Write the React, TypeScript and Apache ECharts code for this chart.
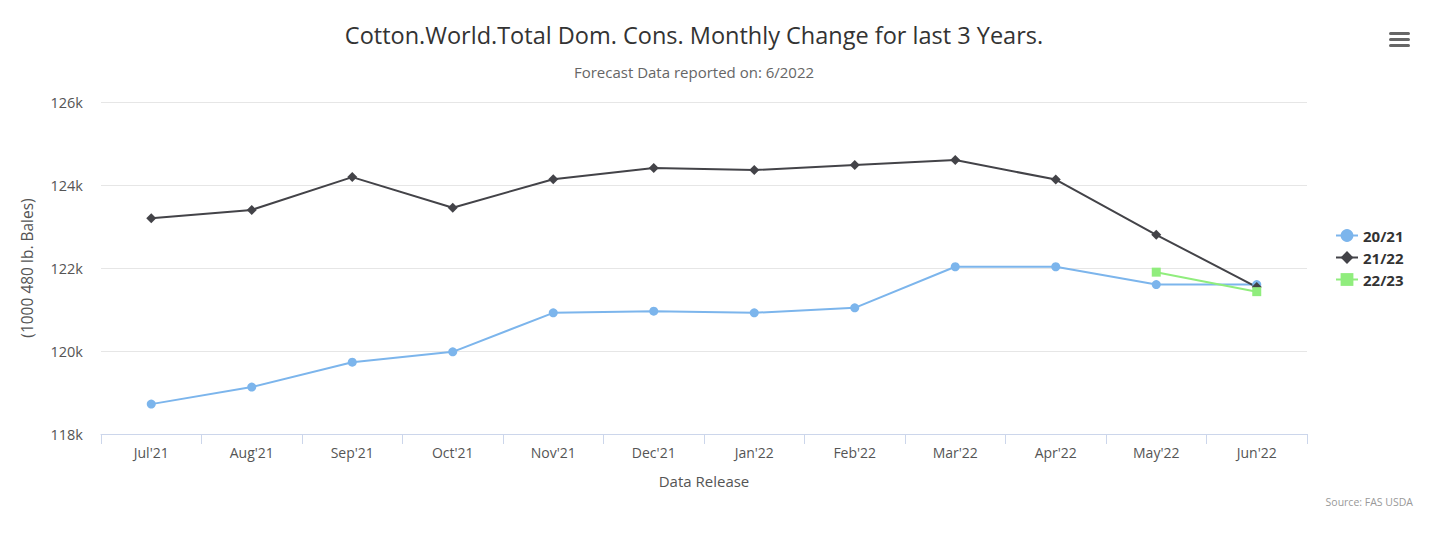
import React, { useEffect, useRef } from "react";
import * as echarts from "echarts";

const categories = ["Jul'21", "Aug'21", "Sep'21", "Oct'21", "Nov'21", "Dec'21", "Jan'22", "Feb'22", "Mar'22", "Apr'22", "May'22", "Jun'22"];
const s2021 = [118720, 119130, 119730, 119980, 120920, 120960, 120920, 121040, 122030, 122030, 121600, 121600];
const s2122 = [123200, 123400, 124190, 123450, 124140, 124410, 124360, 124480, 124600, 124130, 122800, 121540];
const s2223 = [null, null, null, null, null, null, null, null, null, null, 121900, 121430];
const yTicks = { min: 118000, max: 126000, interval: 2000 };

const FONT = "'Open Sans', 'DejaVu Sans', sans-serif";

export default function App() {
  const ref = useRef<HTMLDivElement>(null);
  useEffect(() => {
    const chart = echarts.init(ref.current!, null, { renderer: "svg" });
    chart.setOption({
      animation: false,
      textStyle: { fontFamily: FONT },
      title: {
        text: "Cotton.World.Total Dom. Cons. Monthly Change for last 3 Years.",
        subtext: "Forecast Data reported on: 6/2022",
        left: 689,
        textAlign: "center",
        top: 18,
        itemGap: 17,
        textStyle: { fontFamily: FONT, fontSize: 23.5, fontWeight: "normal", color: "#333333" },
        subtextStyle: { fontFamily: FONT, fontSize: 15, color: "#666666" },
      },
      legend: {
        orient: "vertical",
        left: 1330,
        top: 223,
        itemGap: 7,
        itemWidth: 22,
        itemHeight: 16,
        textStyle: { fontFamily: FONT, fontSize: 15, fontWeight: "bold", color: "#333333" },
        data: ["20/21", "21/22", "22/23"],
      },
      grid: { left: 101, right: 124, top: 102, bottom: 114, containLabel: false },
      xAxis: {
        type: "category",
        data: categories,
        boundaryGap: true,
        name: "Data Release",
        nameLocation: "middle",
        nameGap: 39,
        nameTextStyle: { fontFamily: FONT, fontSize: 15, color: "#555555" },
        axisLine: { lineStyle: { color: "#ccd6eb", width: 1 } },
        axisTick: { show: true, length: 10, lineStyle: { color: "#ccd6eb" } },
        axisLabel: { fontFamily: FONT, fontSize: 14, color: "#555555", margin: 11 },
      },
      yAxis: {
        type: "value",
        min: yTicks.min,
        max: yTicks.max,
        interval: yTicks.interval,
        name: "(1000 480 lb. Bales)",
        nameLocation: "middle",
        nameGap: 66,
        nameRotate: 90,
        nameTextStyle: { fontFamily: FONT, fontSize: 15.5, color: "#555555" },
        axisLine: { show: false },
        axisTick: { show: false },
        splitLine: { lineStyle: { color: "#e6e6e6", width: 1 } },
        axisLabel: {
          fontFamily: FONT,
          fontSize: 14.5,
          color: "#555555",
          margin: 18,
          formatter: (v: number) => v / 1000 + "k",
        },
      },
      series: [
        {
          name: "20/21",
          type: "line",
          data: s2021,
          color: "#7cb5ec",
          symbol: "circle",
          symbolSize: 9,
          lineStyle: { width: 2 },
        },
        {
          name: "21/22",
          type: "line",
          data: s2122,
          color: "#434348",
          symbol: "diamond",
          symbolSize: 10,
          lineStyle: { width: 2 },
        },
        {
          name: "22/23",
          type: "line",
          data: s2223,
          color: "#90ed7d",
          symbol: "rect",
          symbolSize: 9,
          lineStyle: { width: 2 },
          connectNulls: false,
        },
      ],
      graphic: [
        { type: "rect", left: 1389, top: 32, shape: { width: 21, height: 3, r: 1.5 }, style: { fill: "#666666" } },
        { type: "rect", left: 1389, top: 38, shape: { width: 21, height: 3, r: 1.5 }, style: { fill: "#666666" } },
        { type: "rect", left: 1389, top: 44, shape: { width: 21, height: 3, r: 1.5 }, style: { fill: "#666666" } },
        {
          type: "text",
          right: 18,
          top: 496,
          style: { text: "Source: FAS USDA", fontFamily: FONT, fontSize: 10.5, fill: "#999999" },
        },
      ],
    });
    return () => chart.dispose();
  }, []);
  return (
    <div
      ref={ref}
      style={{ position: "fixed", left: 0, top: 0, width: 1431, height: 548, background: "#ffffff" }}
    />
  );
}
